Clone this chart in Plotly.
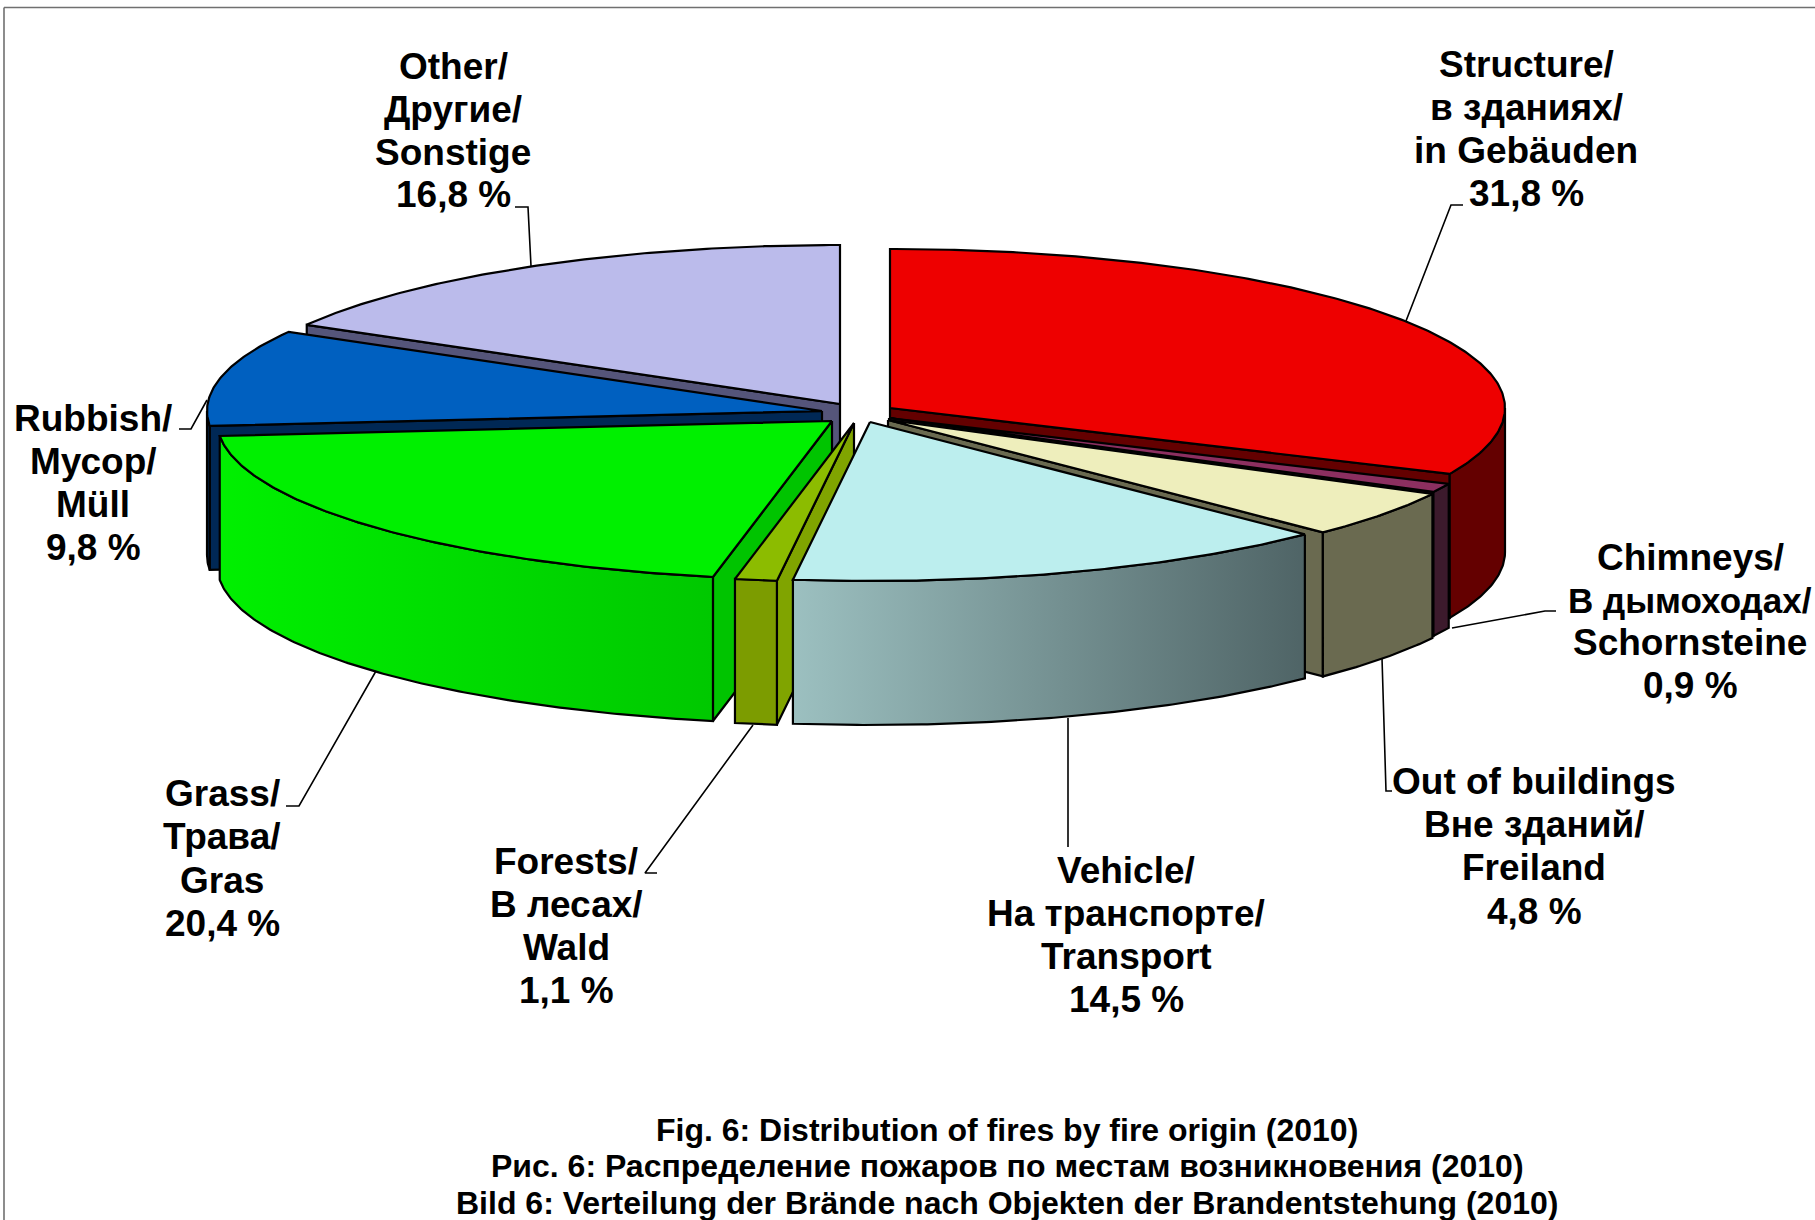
import numpy as np
import plotly.graph_objects as go

# ---- data ----
categories = ["Structure", "Chimneys", "Out of buildings", "Vehicle", "Forests", "Grass", "Rubbish", "Other"]
values = [31.8, 0.9, 4.8, 14.5, 1.1, 20.4, 9.8, 16.8]
label_lines = [
    ["Structure/", "в зданиях/", "in Gebäuden", "31,8 %"],
    ["Chimneys/", "В дымоходах/", "Schornsteine", "0,9 %"],
    ["Out of buildings", "Вне зданий/", "Freiland", "4,8 %"],
    ["Vehicle/", "На транспорте/", "Transport", "14,5 %"],
    ["Forests/", "В лесах/", "Wald", "1,1 %"],
    ["Grass/", "Трава/", "Gras", "20,4 %"],
    ["Rubbish/", "Мусор/", "Müll", "9,8 %"],
    ["Other/", "Другие/", "Sonstige", "16,8 %"],
]
title_lines = [
    "Fig. 6: Distribution of fires by fire origin (2010)",
    "Рис. 6: Распределение пожаров по местам возникновения (2010)",
    "Bild 6: Verteilung der Brände nach Objekten der Brandentstehung (2010)",
]

# ---- layout and style ----
W, H = 1815, 1220
RX, RY, DEPTH = 615, 159, 144
apex = {
    "Structure": (890, 408), "Chimneys": (889, 418), "Out of buildings": (888, 420),
    "Vehicle": (870, 422), "Forests": (854, 423), "Grass": (832, 421),
    "Rubbish": (822, 411), "Other": (840, 404),
}
colors = {  # top, cut face, wall left, wall right
    "Structure": ("#EE0000", "#640000", "#640000", "#640000"),
    "Chimneys": ("#8C2F60", "#3C1A2C", "#3C1A2C", "#3C1A2C"),
    "Out of buildings": ("#EEEEBC", "#6A6A50", "#6A6A50", "#6A6A50"),
    "Vehicle": ("#BCEEEE", "#6A8080", "#9CC0C0", "#4F6466"),
    "Forests": ("#8CBC00", "#80A400", "#7C9C00", "#7C9C00"),
    "Grass": ("#00F000", "#00C400", "#00F000", "#00C800"),
    "Rubbish": ("#0060C0", "#002855", "#002855", "#002855"),
    "Other": ("#BBBBEB", "#55557A", "#55557A", "#55557A"),
}
draw_order = ["Other", "Rubbish", "Structure", "Chimneys", "Out of buildings", "Grass", "Forests", "Vehicle"]
label_pos = {
    "Structure": (1526, [64, 107, 150, 193]),
    "Chimneys": (1690, [557, 600, 642, 685]),
    "Out of buildings": (1534, [781, 824, 867, 911]),
    "Vehicle": (1126, [870, 913, 956, 999]),
    "Forests": (566, [861, 904, 947, 990]),
    "Grass": (222, [793, 836, 880, 923]),
    "Rubbish": (93, [418, 461, 504, 547]),
    "Other": (453, [66, 109, 152, 194]),
}
LABEL_SIZE = 37
EDGE_LINE_SIZE = 35  # the one line that would otherwise run off the right edge
leaders = [
    ([515, 528, 531], [207, 207, 266]),
    ([1463, 1451, 1406], [205, 205, 321]),
    ([1452, 1545, 1556], [628, 611, 611]),
    ([1382, 1386, 1392], [658, 791, 791]),
    ([1068, 1068], [718, 847]),
    ([753, 645, 657], [725, 873, 873]),
    ([376, 299, 286], [671, 806, 806]),
    ([207, 191, 179], [400, 429, 429]),
]
FONT = "Liberation Sans, Arial, sans-serif"
LINE = dict(color="black", width=2.2)

# ---- slice geometry from the values ----
edges = np.cumsum([0] + values) / 100 * 360
spans = {c: (edges[i], min(edges[i + 1], 360.0)) for i, c in enumerate(categories)}


def rim(cx, cy, a, b, dy=0.0):
    t = np.radians(np.linspace(a, b, max(int(abs(b - a)) * 2, 2) + 1))
    return cx + RX * np.sin(t), cy - RY * np.cos(t) + dy


def pt(cx, cy, a):
    return cx + RX * np.sin(np.radians(a)), cy - RY * np.cos(np.radians(a))


def poly(fig, xs, ys, fill, grad=None):
    kw = dict(fillcolor=fill) if grad is None else dict(
        fillgradient=dict(type="horizontal", colorscale=[[0, grad[0]], [1, grad[1]]]))
    fig.add_trace(go.Scatter(x=list(xs) + [xs[0]], y=list(ys) + [ys[0]], mode="lines", fill="toself",
                             line=LINE, showlegend=False, hoverinfo="skip", **kw))


fig = go.Figure()
for name in draw_order:
    a, b = spans[name]
    cx, cy = apex[name]
    top, cut, wl, wr = colors[name]
    # visible radial cut faces
    for ang, visible in ((a, 180 < a < 360), (b, 0 < b < 180)):
        if visible:
            ex, ey = pt(cx, cy, ang)
            poly(fig, [cx, ex, ex, cx], [cy, ey, ey + DEPTH, cy + DEPTH], cut)
    # visible outer wall
    wa, wb = max(a, 90), min(b, 270)
    if wa < wb:
        x1, y1 = rim(cx, cy, wa, wb)
        x2, y2 = rim(cx, cy, wb, wa, DEPTH)
        grad = None if wl == wr else (wl, wr)
        poly(fig, np.r_[x1, x2], np.r_[y1, y2], wl, grad)
    # top face
    x1, y1 = rim(cx, cy, a, b)
    poly(fig, np.r_[cx, x1], np.r_[cy, y1], top)

for lx, ly in leaders:
    fig.add_trace(go.Scatter(x=lx, y=ly, mode="lines", line=dict(color="black", width=1.6),
                             showlegend=False, hoverinfo="skip"))

annotations = []
for name, lines in zip(categories, label_lines):
    x0, ys = label_pos[name]
    for i, (line, y) in enumerate(zip(lines, ys)):
        size = EDGE_LINE_SIZE if (name == "Chimneys" and i == 1) else LABEL_SIZE
        annotations.append(dict(x=x0, y=y, text=f"<b>{line}</b>", showarrow=False, xanchor="center",
                                yanchor="middle", font=dict(family=FONT, size=size, color="black")))
for line, y in zip(title_lines, [1130, 1166, 1203]):
    annotations.append(dict(x=1007, y=y, text=f"<b>{line}</b>", showarrow=False, xanchor="center",
                            yanchor="middle", font=dict(family=FONT, size=32, color="black")))

frame = dict(color="#707070", width=1.6)
fig.update_layout(
    width=W, height=H, margin=dict(l=0, r=0, t=0, b=0), paper_bgcolor="white", plot_bgcolor="white",
    xaxis=dict(range=[0, W], visible=False, fixedrange=True),
    yaxis=dict(range=[H, 0], visible=False, fixedrange=True),
    annotations=annotations, showlegend=False,
    shapes=[dict(type="line", x0=4, x1=W, y0=7.5, y1=7.5, line=frame),
            dict(type="line", x0=4, x1=4, y0=7.5, y1=H, line=frame)],
)
fig.write_html("out.html", config=dict(displayModeBar=False),
               post_script="document.body.style.margin='0';window.dispatchEvent(new Event('resize'));")
